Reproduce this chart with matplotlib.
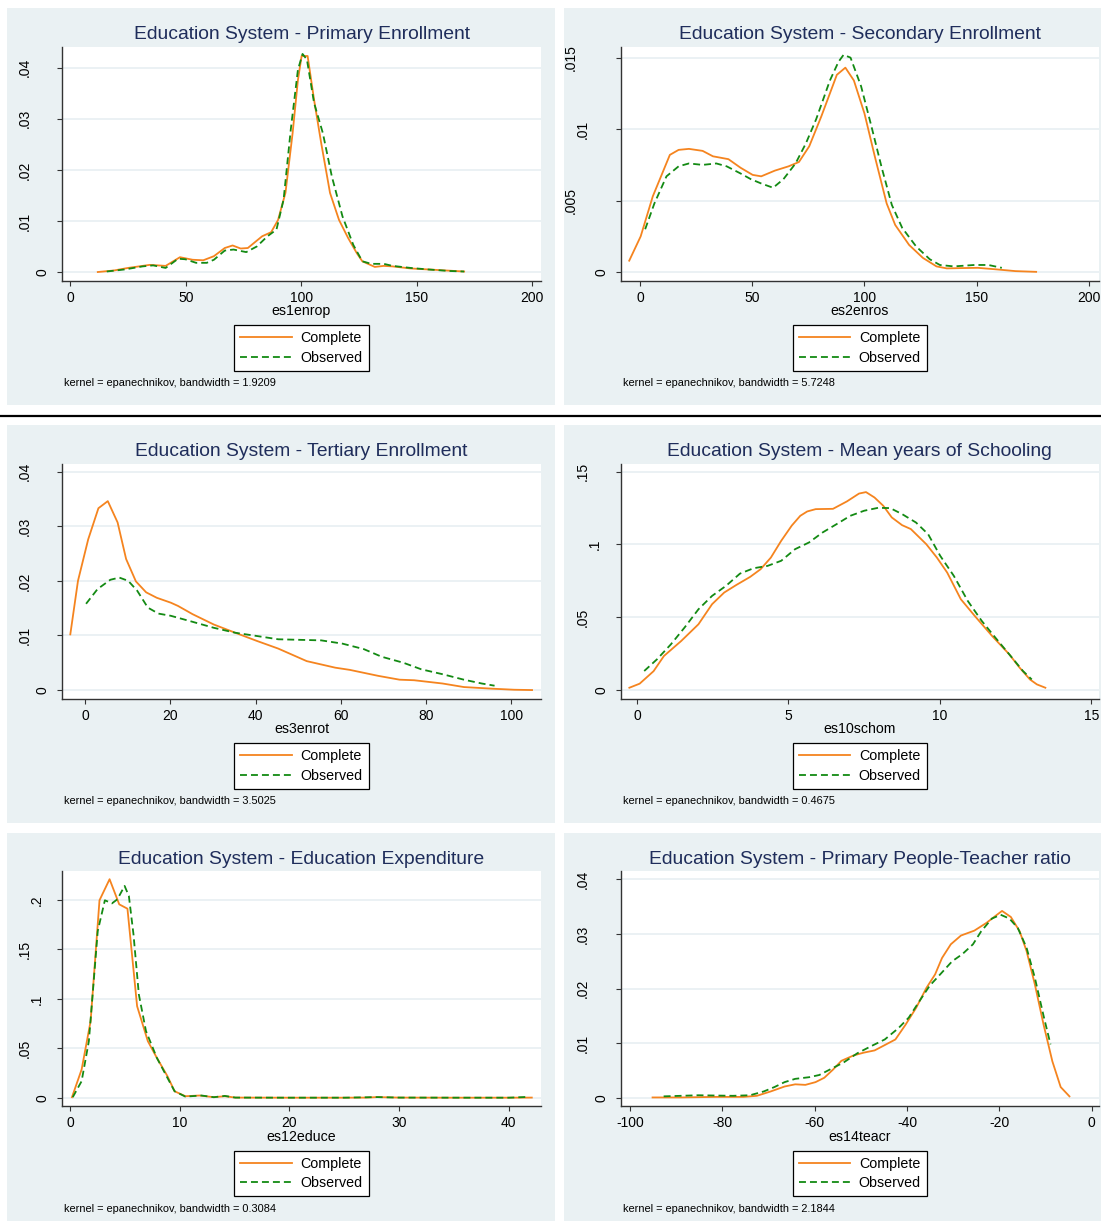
import matplotlib
matplotlib.use("Agg")
import matplotlib.pyplot as plt
from matplotlib.patches import Rectangle
from matplotlib.lines import Line2D

plt.rcParams['font.family'] = ['Liberation Sans', 'DejaVu Sans']
plt.rcParams['lines.scale_dashes'] = False

W, H = 1101, 1223
BG = '#eaf1f3'
NAVY = '#1f2d5b'
ORANGE = '#f5841f'
GREEN = '#138a13'
AXIS = '#333333'

# ---- es1enrop : primary enrollment ----
prim_x_complete = [11.9, 18.9, 25, 34.4, 41.3, 47.5, 53, 57.6, 62.2, 66.9, 70.3, 73.8, 76.9, 83.1, 87, 90,
                   93.2, 96.3, 98.6, 100.2, 102.8, 105.6, 108.7, 112.5, 116.4, 120.3, 124.1, 126.5, 131.9,
                   135.8, 139.6, 147.4, 155.1, 162.8, 170.6]
prim_y_complete = [0, 0.0003, 0.0008, 0.0014, 0.0012, 0.0029, 0.0024, 0.0023, 0.0031, 0.0047, 0.0052, 0.0046,
                   0.0047, 0.007, 0.0078, 0.0102, 0.0155, 0.0272, 0.0376, 0.0423, 0.0423, 0.0337, 0.0252,
                   0.0155, 0.0102, 0.0067, 0.0037, 0.0021, 0.001, 0.0012, 0.0011, 0.0007, 0.0005, 0.0003, 0.0001]
prim_x_observed = [15.8, 23.5, 31.3, 35.9, 41.3, 46.7, 49.8, 54.5, 59.1, 62.2, 66.9, 70.7, 76.2, 80.8, 85.4,
                   89.3, 92.4, 95.5, 98.6, 100.6, 102.5, 105.6, 109.4, 113.3, 117.9, 122.6, 126.5, 130.4,
                   135.8, 139.6, 147.4, 155.1, 164.4, 170.6]
prim_y_observed = [0.0001, 0.0005, 0.0011, 0.0013, 0.0008, 0.0026, 0.0025, 0.0018, 0.0018, 0.0024, 0.0042,
                   0.0044, 0.0039, 0.005, 0.007, 0.0083, 0.0142, 0.0279, 0.0396, 0.0427, 0.0416, 0.0331,
                   0.0272, 0.0187, 0.0109, 0.0053, 0.0021, 0.0016, 0.0016, 0.0012, 0.0008, 0.0005, 0.0002, 0.0001]

# ---- es2enros : secondary enrollment ----
sec_x_complete = [-4.8, 0.3, 5.7, 13.3, 17.2, 21.8, 27.9, 32.5, 39.4, 44.8, 50.2, 54, 60.1, 66.2, 70.8, 75.4,
                  80.8, 87.7, 91.5, 95.3, 100, 104.6, 109.9, 113.7, 119.9, 126, 132.1, 136.7, 142.8, 150.5,
                  158.2, 167.3, 176.5]
sec_y_complete = [0.0008, 0.0025, 0.0053, 0.0082, 0.00855, 0.00862, 0.00848, 0.0081, 0.0079, 0.0073, 0.0068,
                  0.0067, 0.0071, 0.0074, 0.0077, 0.0088, 0.0109, 0.0138, 0.0143, 0.0134, 0.0111, 0.0081,
                  0.0048, 0.0033, 0.0019, 0.001, 0.0004, 0.00026, 0.00028, 0.0003, 0.0002, 0.00007, 0.00002]
sec_x_observed = [2.3, 6.4, 11.8, 17.2, 21.8, 27.9, 34, 38.6, 44.8, 49.4, 54, 59.3, 63.9, 69.3, 73.9, 78.5,
                  84.6, 88.4, 90.7, 93.8, 98.5, 103.1, 107.7, 112.2, 116.8, 123, 129.1, 133.6, 139.8, 149,
                  155.2, 161.2]
sec_y_observed = [0.003, 0.0048, 0.0067, 0.0074, 0.0076, 0.0075, 0.0076, 0.0074, 0.0069, 0.0065, 0.0062,
                  0.0059, 0.0065, 0.0076, 0.009, 0.0107, 0.0134, 0.0147, 0.0152, 0.015, 0.013, 0.0102,
                  0.0073, 0.0047, 0.0031, 0.0018, 0.0009, 0.0005, 0.0004, 0.0005, 0.0005, 0.0003]

# ---- es3enrot : tertiary enrollment ----
ter_x_complete = [-3.5, -1.7, 0.7, 3.1, 5.3, 7.6, 9.6, 11.9, 14.3, 16.8, 20.1, 21.8, 25.2, 30.2, 35.2, 40.3,
                  45.3, 52, 58.7, 62.1, 68.8, 73.8, 77.2, 83.9, 88.9, 95.6, 100.7, 104.9]
ter_y_complete = [0.0102, 0.02, 0.0276, 0.0333, 0.0346, 0.0307, 0.024, 0.0199, 0.0179, 0.0169, 0.016, 0.0154,
                  0.0139, 0.012, 0.0105, 0.009, 0.0076, 0.0053, 0.0041, 0.0037, 0.0026, 0.0019, 0.0018,
                  0.0012, 0.00055, 0.00025, 0.00006, 0]
ter_x_observed = [0.2, 2.9, 5.9, 8, 10.1, 12.2, 14.7, 17.2, 20.1, 25.2, 30.2, 35.2, 40.3, 45.3, 50.3, 55.4,
                  60.4, 65.4, 69.6, 74.7, 78.9, 83.9, 88.9, 93.1, 96.1]
ter_y_observed = [0.0158, 0.0185, 0.0202, 0.0206, 0.02, 0.0182, 0.0151, 0.014, 0.0136, 0.0125, 0.0114,
                  0.0105, 0.0099, 0.0093, 0.0092, 0.0091, 0.0085, 0.0075, 0.0061, 0.005, 0.0038, 0.0029,
                  0.0019, 0.0012, 0.0008]

# ---- es10schom : mean years of schooling ----
sch_x_complete = [-0.25, 0.09, 0.55, 0.89, 1.46, 2.03, 2.48, 2.88, 3.28, 3.74, 4.08, 4.42, 4.76, 5.11, 5.39,
                  5.62, 5.9, 6.47, 6.93, 7.33, 7.56, 7.84, 8.13, 8.41, 8.75, 9.04, 9.55, 9.9, 10.24, 10.69,
                  11.15, 11.72, 12.29, 12.63, 12.97, 13.2, 13.48]
sch_y_complete = [0.0016, 0.0044, 0.013, 0.0234, 0.0337, 0.0452, 0.059, 0.067, 0.0722, 0.0778, 0.083, 0.091,
                  0.1025, 0.113, 0.1197, 0.1227, 0.1243, 0.1245, 0.1296, 0.135, 0.136, 0.1323, 0.1266,
                  0.1186, 0.1133, 0.1106, 0.1002, 0.091, 0.0807, 0.0624, 0.0509, 0.0372, 0.0245, 0.0154,
                  0.0073, 0.0039, 0.0016]
sch_x_observed = [0.24, 0.66, 1.12, 1.57, 2.03, 2.48, 2.94, 3.4, 3.85, 4.31, 4.76, 5.22, 5.68, 6.13, 6.59,
                  7.04, 7.5, 7.96, 8.36, 8.75, 9.21, 9.61, 10.01, 10.46, 10.92, 11.38, 11.83, 12.29, 12.74,
                  13.03]
sch_y_observed = [0.0131, 0.0211, 0.0314, 0.0429, 0.0555, 0.0647, 0.0716, 0.08, 0.0837, 0.0853, 0.0888,
                  0.0968, 0.1014, 0.1083, 0.114, 0.1197, 0.1232, 0.1252, 0.125, 0.1209, 0.1151, 0.1071,
                  0.0922, 0.0784, 0.0612, 0.0475, 0.036, 0.0245, 0.0131, 0.0073]

# ---- es12educe : education expenditure ----
exp_x_complete = [0.16, 1.04, 1.86, 2.67, 3.59, 4.47, 5.22, 6.1, 7.08, 7.9, 8.87, 9.52, 10.5, 11.8, 13.1,
                  14.1, 15.06, 20, 25, 27, 28, 30, 35, 40, 42.1]
exp_y_complete = [0.0007, 0.0287, 0.0776, 0.1997, 0.221, 0.1956, 0.1912, 0.0927, 0.0573, 0.0405, 0.0219,
                  0.0067, 0.0017, 0.0024, 0.0007, 0.0017, 0.0003, 0.0002, 0.0002, 0.0003, 0.0008, 0.0003,
                  0.0002, 0.0002, 0.0003]
exp_x_observed = [0.23, 1.04, 1.7, 2.51, 3.16, 3.81, 4.3, 4.96, 5.35, 5.77, 6.26, 6.91, 7.9, 8.87, 9.52,
                  10.5, 11.97, 13.1, 14.1, 15.06, 20, 25, 28, 30, 35, 40, 41.8]
exp_y_observed = [0.0007, 0.0169, 0.0573, 0.1686, 0.1997, 0.1966, 0.2007, 0.2142, 0.204, 0.1653, 0.1045,
                  0.0675, 0.0405, 0.0202, 0.0067, 0.0013, 0.0024, 0.0007, 0.002, 0.0003, 0.0002, 0.0002,
                  0.0008, 0.0003, 0.0002, 0.0002, 0.001]

# ---- es14teacr : primary people-teacher ratio ----
tea_x_complete = [-95.1, -88.9, -81.4, -75.4, -72.5, -69.5, -66.5, -64.2, -62, -59.8, -57.9, -56, -54.2,
                  -51.5, -49.3, -47, -45.2, -42.5, -40.3, -38, -35.8, -33.9, -32.4, -30.5, -28.3, -25.4,
                  -22.8, -20.5, -19.4, -17.5, -15.6, -14.1, -12.3, -10.4, -8.5, -6.7, -4.8]
tea_y_complete = [0.0001, 0.0001, 0.0002, 0.0002, 0.0004, 0.0012, 0.0021, 0.0025, 0.0024, 0.0029, 0.0037,
                  0.0052, 0.0068, 0.0078, 0.0083, 0.0087, 0.0095, 0.0107, 0.0134, 0.0165, 0.0201, 0.0226,
                  0.0256, 0.0281, 0.0297, 0.0306, 0.032, 0.0335, 0.0342, 0.0331, 0.0305, 0.0269, 0.0208,
                  0.0134, 0.0067, 0.002, 0.0003]
tea_x_observed = [-92.7, -85.2, -77.7, -74, -71, -68.7, -66.5, -64.2, -61.2, -59, -56.7, -53.7, -50.7,
                  -47.7, -44.8, -41.8, -39.6, -37.3, -35.1, -32.8, -30.2, -28, -25.7, -23.9, -21.6, -19.7,
                  -17.8, -16, -14.1, -12.3, -10.4, -8.9]
tea_y_observed = [0.0003, 0.0005, 0.0004, 0.0005, 0.0012, 0.002, 0.0029, 0.0035, 0.0038, 0.0042, 0.0052,
                  0.0065, 0.0082, 0.0095, 0.0107, 0.0128, 0.0147, 0.0177, 0.0205, 0.0226, 0.025, 0.0263,
                  0.0281, 0.0305, 0.0328, 0.0335, 0.0328, 0.0311, 0.0275, 0.022, 0.015, 0.0098]

titles = ["Education System - Primary Enrollment", "Education System - Secondary Enrollment",
          "Education System - Tertiary Enrollment", "Education System - Mean years of Schooling",
          "Education System - Education Expenditure", "Education System - Primary People-Teacher ratio"]
xlabels = ["es1enrop", "es2enros", "es3enrot", "es10schom", "es12educe", "es14teacr"]
bandwidths = ["1.9209", "5.7248", "3.5025", "0.4675", "0.3084", "2.1844"]
legend_labels = ["Complete", "Observed"]

xticks = [[0, 50, 100, 150, 200], [0, 50, 100, 150, 200], [0, 20, 40, 60, 80, 100],
          [0, 5, 10, 15], [0, 10, 20, 30, 40], [-100, -80, -60, -40, -20, 0]]
yticks = [[0, 0.01, 0.02, 0.03, 0.04], [0, 0.005, 0.01, 0.015], [0, 0.01, 0.02, 0.03, 0.04],
          [0, 0.05, 0.1, 0.15], [0, 0.05, 0.1, 0.15, 0.2], [0, 0.01, 0.02, 0.03, 0.04]]
ytick_labels = [["0", ".01", ".02", ".03", ".04"], ["0", ".005", ".01", ".015"],
                ["0", ".01", ".02", ".03", ".04"], ["0", ".05", ".1", ".15"],
                ["0", ".05", ".1", ".15", ".2"], ["0", ".01", ".02", ".03", ".04"]]

curves = [
    (prim_x_complete, prim_y_complete, prim_x_observed, prim_y_observed),
    (sec_x_complete, sec_y_complete, sec_x_observed, sec_y_observed),
    (ter_x_complete, ter_y_complete, ter_x_observed, ter_y_observed),
    (sch_x_complete, sch_y_complete, sch_x_observed, sch_y_observed),
    (exp_x_complete, exp_y_complete, exp_x_observed, exp_y_observed),
    (tea_x_complete, tea_y_complete, tea_x_observed, tea_y_observed),
]

# layout in pixels
xlims = [(-3.6, 203.9), (-8.6, 204.5), (-5.45, 107.0), (-0.536, 15.25), (-0.75, 42.94), (-102.0, 1.6)]
ylims = [(-0.0017, 0.04416), (-0.0006, 0.01578), (-0.0016, 0.0414), (-0.006, 0.1553),
         (-0.0084, 0.2293), (-0.0015, 0.0415)]
col_x = [(62.0, 541.0), (620.7, 1099.0)]
row_y = [(46.5, 280.7), (464.0, 698.8), (871.0, 1106.2)]
bg_cols = [(7, 555), (564, 1101)]
bg_rows = [(8, 405), (425, 823), (833, 1221)]


def fx(px):
    return px / W


def fy(py):
    return 1 - py / H


fig = plt.figure(figsize=(W / 100, H / 100), dpi=100)
fig.patch.set_facecolor('white')

for (bx0, bx1) in bg_cols:
    for (by0, by1) in bg_rows:
        fig.add_artist(Rectangle((fx(bx0), fy(by1)), fx(bx1) - fx(bx0), fy(by0) - fy(by1),
                                 transform=fig.transFigure, facecolor=BG, edgecolor='none', zorder=0))
fig.add_artist(Line2D([0, 1], [fy(416), fy(416)], transform=fig.transFigure, color='black', lw=1.6))


def label_width(s):
    return sum(3.9 if c == '.' else 7.8 for c in s)


for i in range(6):
    r, c = divmod(i, 2)
    x0, x1 = col_x[c]
    y0, y1 = row_y[r]
    hpx = y1 - y0
    ax = fig.add_axes([fx(x0), fy(y1), fx(x1) - fx(x0), fy(y0) - fy(y1)])
    ax.set_facecolor('white')
    ax.set_xlim(*xlims[i])
    ax.set_ylim(*ylims[i])
    for s in ('top', 'right'):
        ax.spines[s].set_visible(False)
    for s in ('left', 'bottom'):
        ax.spines[s].set_color(AXIS)
        ax.spines[s].set_linewidth(1.0)

    ax.set_xticks(xticks[i])
    ax.set_xticklabels([str(v) for v in xticks[i]])
    ax.set_yticks(yticks[i])
    ax.set_yticklabels([])
    ax.tick_params(axis='both', direction='out', length=3.6, width=0.8, color=AXIS)
    ax.tick_params(axis='x', labelsize=10, pad=3.8, labelcolor='black')
    for yv in yticks[i]:
        ax.axhline(yv, color='#e6eef1', lw=1.1, zorder=0)
    for yv, lab in zip(yticks[i], ytick_labels[i]):
        off = (7.3 + 1.56 * label_width(lab)) * 0.72
        ax.annotate(lab, xy=(0, yv), xycoords=('axes fraction', 'data'), xytext=(-off, 0),
                    textcoords='offset points', rotation=90, ha='center', va='center',
                    fontsize=10, color='black', annotation_clip=False)

    xc, yc, xo, yo = curves[i]
    h1, = ax.plot(xc, yc, color=ORANGE, lw=1.3, solid_joinstyle='round', zorder=3)
    h2, = ax.plot(xo, yo, color=GREEN, lw=1.3, linestyle=(0, (5.0, 2.9)), zorder=3)

    ax.text(0.5, -30.5 / hpx, xlabels[i], transform=ax.transAxes, ha='center', va='center',
            fontsize=10.2, color='black')
    leg = ax.legend([h1, h2], legend_labels, loc='upper center', bbox_to_anchor=(0.5, -44.5 / hpx),
                    borderaxespad=0, fontsize=10.3, handlelength=3.6, handletextpad=0.6,
                    borderpad=0.42, labelspacing=0.38, fancybox=False, framealpha=1,
                    edgecolor='black')
    leg.get_frame().set_linewidth(0.9)

    fig.text(fx((x0 + x1) / 2), fy(y0 - 12.0), titles[i], ha='center', va='center',
             fontsize=13.9, color=NAVY)
    fig.text(fx(x0 + 2), fy(y1 + 102.3), "kernel = epanechnikov, bandwidth = " + bandwidths[i],
             ha='left', va='center', fontsize=7.9, color='black')

fig.savefig("out.png", dpi=100, facecolor='white')
